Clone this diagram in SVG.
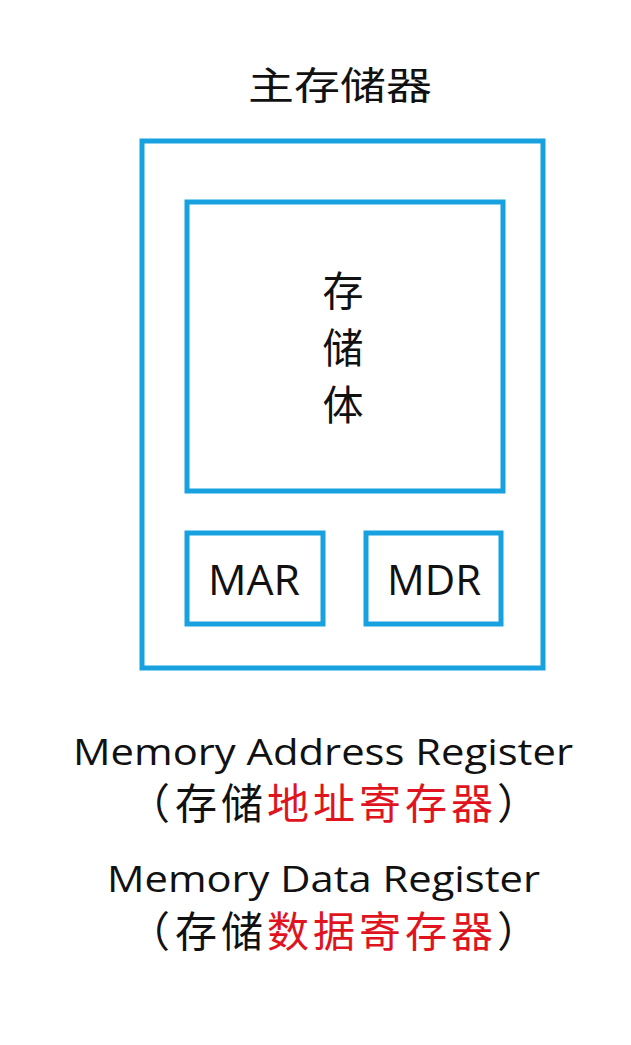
<svg xmlns="http://www.w3.org/2000/svg" width="631" height="1045" viewBox="0 0 631 1045">
  <style>
    .box { fill: none; stroke: #17a2df; stroke-width: 5; }
    .cjk { font-family: "Noto Sans CJK SC", sans-serif; fill: #111; }
    .lat { font-family: "Open Sans", "Liberation Sans", sans-serif; fill: #111; }
    .red { fill: #e0141e; }
  </style>
  <rect width="631" height="1045" fill="#ffffff"/>

  <!-- title -->
  <text class="cjk" x="340" y="99" font-size="38" text-anchor="middle" textLength="184" lengthAdjust="spacingAndGlyphs">主存储器</text>

  <!-- main memory enclosure -->
  <g id="main-memory">
    <rect class="box" x="142" y="141" width="401" height="527"/>
  </g>

  <!-- storage array -->
  <g id="storage-body">
    <rect class="box" x="187" y="202" width="316" height="289"/>
    <text class="cjk" x="343" y="306" font-size="41" text-anchor="middle">存</text>
    <text class="cjk" x="343" y="363" font-size="41" text-anchor="middle">储</text>
    <text class="cjk" x="343" y="420" font-size="41" text-anchor="middle">体</text>
  </g>

  <!-- address register -->
  <g id="mar">
    <rect class="box" x="187" y="533" width="136" height="91"/>
    <text class="lat" x="208" y="595" font-size="42" textLength="92" lengthAdjust="spacingAndGlyphs">MAR</text>
  </g>

  <!-- data register -->
  <g id="mdr">
    <rect class="box" x="366" y="533" width="135" height="91"/>
    <text class="lat" x="387" y="595" font-size="42" textLength="94" lengthAdjust="spacingAndGlyphs">MDR</text>
  </g>

  <!-- legend -->
  <g id="legend">
    <text class="lat" x="73" y="765" font-size="36" textLength="500" lengthAdjust="spacingAndGlyphs">Memory Address Register</text>
    <text class="cjk" y="819" font-size="42" x="128 175 221 267 313 359 405 451 497">（存储<tspan class="red">地址寄存器</tspan>）</text>
    <text class="lat" x="107" y="892" font-size="36" textLength="433" lengthAdjust="spacingAndGlyphs">Memory Data Register</text>
    <text class="cjk" y="947" font-size="42" x="128 175 221 267 313 359 405 451 497">（存储<tspan class="red">数据寄存器</tspan>）</text>
  </g>
</svg>
